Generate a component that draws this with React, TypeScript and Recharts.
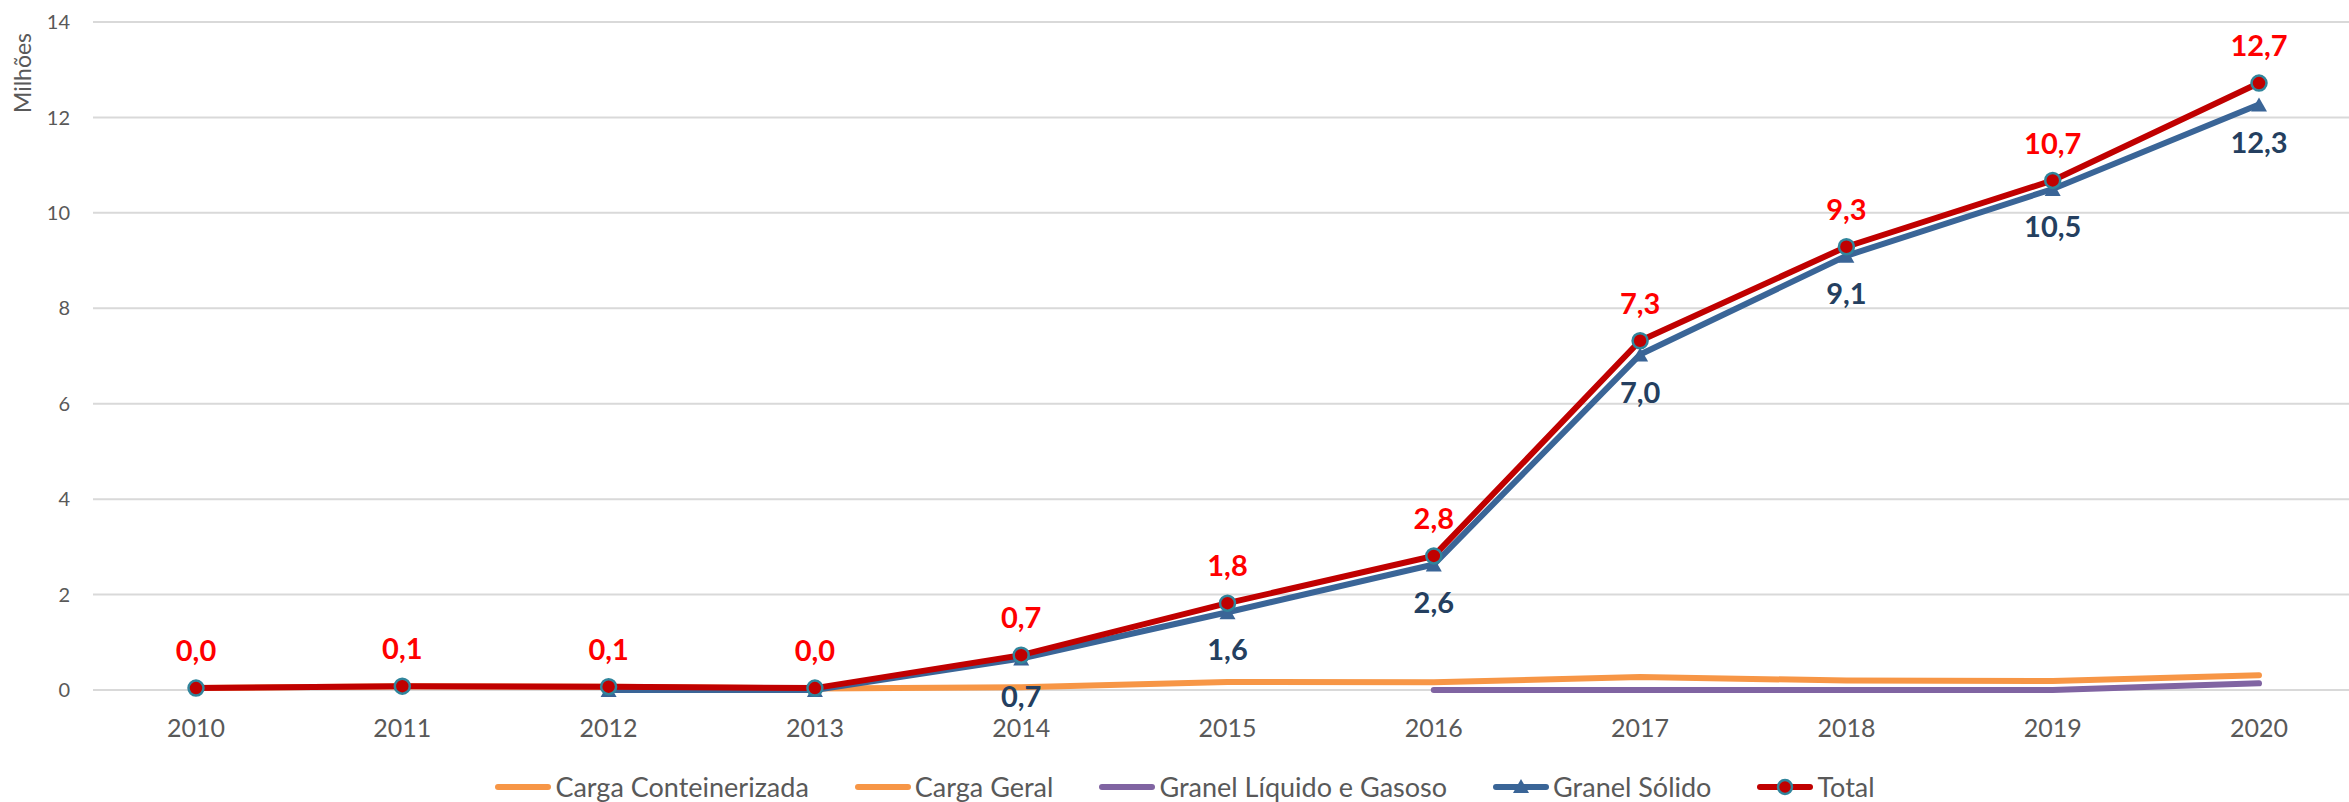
import React from 'react';
import { LineChart, Line, XAxis, YAxis, CartesianGrid, Legend, LabelList } from 'recharts';

const anos = ['2010', '2011', '2012', '2013', '2014', '2015', '2016', '2017', '2018', '2019', '2020'];
const cargaConteinerizada = [null, null, null, null, null, null, null, null, null, null, null];
const cargaGeral = [0.04, 0.08, 0.07, 0.03, 0.06, 0.17, 0.16, 0.27, 0.2, 0.19, 0.31];
const granelLiquido = [null, null, null, null, null, null, 0.0, 0.0, 0.0, 0.0, 0.14];
const granelSolido = [null, null, 0.0, 0.0, 0.66, 1.63, 2.63, 7.03, 9.1, 10.5, 12.27];
const granelSolidoRotulos = [null, null, null, null, 0.66, 1.63, 2.63, 7.03, 9.1, 10.5, 12.27];
const total = [0.04, 0.08, 0.07, 0.04, 0.73, 1.82, 2.81, 7.32, 9.29, 10.68, 12.72];
const yTicks = [0, 2, 4, 6, 8, 10, 12, 14];

const data = anos.map((ano, i) => ({
  ano,
  cc: cargaConteinerizada[i],
  cg: cargaGeral[i],
  gl: granelLiquido[i],
  gs: granelSolido[i],
  gsLabel: granelSolidoRotulos[i],
  total: total[i],
}));

const FONT = "Lato, 'Open Sans', sans-serif";
const GRAY = '#595959';
const ORANGE = '#F79646';
const PURPLE = '#8064A2';
const BLUE = '#3A6597';
const RED = '#C00000';
const TEAL = '#31859C';

const fmt = (v: number) => v.toFixed(1).replace('.', ',');

const TotalLabel = (props: any) => {
  const { x, y, value } = props;
  if (value == null || x == null || y == null) return null;
  return (
    <text x={x} y={y - 37} dy="0.35em" textAnchor="middle" fill="#FF0000" fontWeight={700} fontSize={29} fontFamily={FONT}>
      {fmt(Number(value))}
    </text>
  );
};

const SolidoLabel = (props: any) => {
  const { x, y, value } = props;
  if (value == null || x == null || y == null) return null;
  return (
    <text x={x} y={y + 38} dy="0.35em" textAnchor="middle" fill="#243F60" fontWeight={700} fontSize={29} fontFamily={FONT}>
      {fmt(Number(value))}
    </text>
  );
};

const TriangleDot = (props: any) => {
  const { cx, cy, value } = props;
  if (cx == null || cy == null || value == null) return null;
  const w = 8, h = 7;
  return <path d={`M${cx},${cy - h} L${cx + w},${cy + h} L${cx - w},${cy + h} Z`} fill={BLUE} />;
};

const legendItems = [
  { name: 'Carga Conteinerizada', color: ORANGE, marker: 'none' },
  { name: 'Carga Geral', color: ORANGE, marker: 'none' },
  { name: 'Granel Líquido e Gasoso', color: PURPLE, marker: 'none' },
  { name: 'Granel Sólido', color: BLUE, marker: 'triangle' },
  { name: 'Total', color: RED, marker: 'circle' },
];

const LegendContent = () => (
  <div
    style={{
      height: 40,
      paddingTop: 10,
      paddingLeft: 8,
      boxSizing: 'border-box',
      display: 'flex',
      justifyContent: 'center',
      alignItems: 'center',
      fontFamily: FONT,
      fontSize: 27,
      color: GRAY,
    }}
  >
    {legendItems.map((it, i) => (
      <div key={it.name} style={{ display: 'flex', alignItems: 'center', marginLeft: i === 0 ? 0 : 46 }}>
        <svg width={56} height={20} style={{ marginRight: 4 }}>
          <line x1={3} y1={10} x2={53} y2={10} stroke={it.color} strokeWidth={6} strokeLinecap="round" />
          {it.marker === 'triangle' && <path d="M28,2 L36,16 L20,16 Z" fill={BLUE} />}
          {it.marker === 'circle' && <circle cx={28} cy={10} r={7} fill={RED} stroke={TEAL} strokeWidth={2.5} />}
        </svg>
        <span style={{ lineHeight: '30px' }}>{it.name}</span>
      </div>
    ))}
  </div>
);

const YLabel = () => (
  <text x={23} y={73} transform="rotate(-90, 23, 73)" textAnchor="middle" dy="0.35em" fill={GRAY} fontSize={23} fontFamily={FONT}>
    Milhões
  </text>
);

export default function App() {
  return (
    <div style={{ position: 'absolute', left: 0, top: 0, width: 2349, height: 802, overflow: 'hidden', background: '#fff' }}>
      <LineChart width={2362} height={802} data={data} margin={{ top: 22, right: 0, bottom: 0, left: 0 }}>
        <CartesianGrid vertical={false} stroke="#D9D9D9" strokeWidth={2} />
        <XAxis
          dataKey="ano"
          axisLine={false}
          tickLine={false}
          tickSize={0}
          tickMargin={29}
          height={72}
          padding={{ left: 103, right: 103 }}
          tick={{ fill: GRAY, fontSize: 25, fontFamily: FONT }}
          interval={0}
        />
        <YAxis
          domain={[0, 14]}
          ticks={yTicks}
          axisLine={false}
          tickLine={false}
          tickSize={0}
          tickMargin={23}
          width={93}
          tick={{ fill: GRAY, fontSize: 20, fontFamily: FONT }}
          label={<YLabel />}
        />
        <Legend verticalAlign="bottom" height={40} content={<LegendContent />} />
        <Line dataKey="cc" name="Carga Conteinerizada" stroke={ORANGE} strokeWidth={6} dot={false} isAnimationActive={false} strokeLinecap="round" />
        <Line dataKey="cg" name="Carga Geral" stroke={ORANGE} strokeWidth={6} dot={false} isAnimationActive={false} strokeLinecap="round" />
        <Line dataKey="gl" name="Granel Líquido e Gasoso" stroke={PURPLE} strokeWidth={6} dot={false} isAnimationActive={false} strokeLinecap="round" />
        <Line dataKey="gs" name="Granel Sólido" stroke={BLUE} strokeWidth={6} dot={<TriangleDot />} activeDot={false} isAnimationActive={false}>
          <LabelList dataKey="gsLabel" content={<SolidoLabel />} />
        </Line>
        <Line
          dataKey="total"
          name="Total"
          stroke={RED}
          strokeWidth={6}
          dot={{ r: 7.5, fill: RED, stroke: TEAL, strokeWidth: 2.5 }}
          activeDot={false}
          isAnimationActive={false}
        >
          <LabelList dataKey="total" content={<TotalLabel />} />
        </Line>
      </LineChart>
    </div>
  );
}
